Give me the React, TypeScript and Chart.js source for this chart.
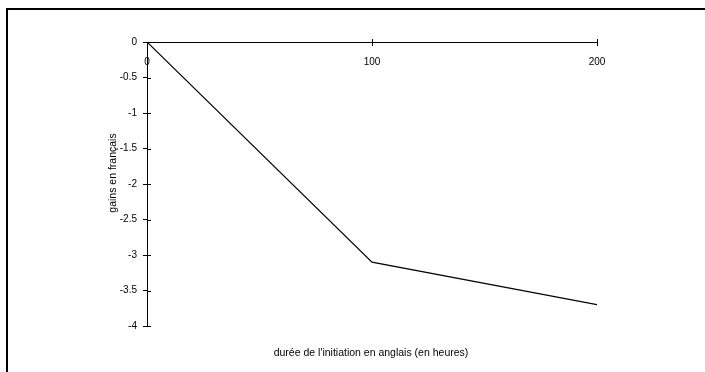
import React, { useEffect, useRef } from "react";
import { Chart, registerables } from "chart.js";

Chart.register(...registerables);

const hours = [0, 100, 200];
const gains = [0, -3.1, -3.7];
const xTicks = [0, 100, 200];
const yTicks = [0, -0.5, -1, -1.5, -2, -2.5, -3, -3.5, -4];
const xTitle = "durée de l'initiation en anglais (en heures)";
const yTitle = "gains en français";

const FONT = "'Liberation Sans', Arial, sans-serif";

const extras = {
  id: "extras",
  beforeDraw(chart: any) {
    const { ctx, width, height } = chart;
    ctx.save();
    ctx.fillStyle = "#fff";
    ctx.fillRect(0, 0, width, height);
    ctx.fillStyle = "#000";
    ctx.fillRect(6, 8, width - 6, 2);
    ctx.fillRect(6, 8, 2, height - 8);
    ctx.restore();
  },
  afterDraw(chart: any) {
    const { ctx, chartArea, scales } = chart;
    const ys = scales.y;
    const xs = scales.x;
    ctx.save();
    ctx.strokeStyle = "#000";
    ctx.lineWidth = 1;
    ctx.beginPath();
    ys.ticks.forEach((t: any) => {
      const py = Math.round(ys.getPixelForValue(t.value)) + 0.5;
      ctx.moveTo(chartArea.left, py);
      ctx.lineTo(chartArea.left + 4, py);
    });
    xs.ticks.forEach((t: any) => {
      if (t.value === 0) return;
      const px = Math.round(xs.getPixelForValue(t.value)) + 0.5;
      ctx.moveTo(px, chartArea.top - 3);
      ctx.lineTo(px, chartArea.top);
    });
    ctx.stroke();
    ctx.fillStyle = "#000";
    ctx.font = "10.5px " + FONT;
    ctx.textAlign = "center";
    ctx.textBaseline = "middle";
    ctx.fillText(xTitle, (chartArea.left + chartArea.right) / 2 - 1, chartArea.bottom + 27);
    ctx.translate(chartArea.left - 34, (chartArea.top + chartArea.bottom) / 2 - 11);
    ctx.rotate(-Math.PI / 2);
    ctx.fillText(yTitle, 0, 0);
    ctx.restore();
  },
};

export default function App() {
  const ref = useRef<HTMLCanvasElement | null>(null);
  useEffect(() => {
    if (!ref.current) return;
    const chart = new Chart(ref.current, {
      type: "line",
      data: {
        datasets: [
          {
            data: hours.map((h, i) => ({ x: h, y: gains[i] })),
            borderColor: "#000",
            borderWidth: 1.2,
            pointRadius: 0,
            tension: 0,
            fill: false,
          },
        ],
      },
      options: {
        animation: false,
        responsive: false,
        maintainAspectRatio: false,
        layout: { padding: { top: 42, right: 108, bottom: 46, left: 0 } },
        plugins: { legend: { display: false }, tooltip: { enabled: false } },
        scales: {
          x: {
            type: "linear",
            position: { y: 0 } as any,
            min: 0,
            max: 200,
            afterBuildTicks: (s: any) => {
              s.ticks = xTicks.map((v) => ({ value: v }));
            },
            grid: { drawOnChartArea: false, drawTicks: true, tickLength: 3, color: "#000" },
            border: { display: true, color: "#000", width: 1 },
            ticks: {
              color: "#000",
              padding: 11,
              font: { size: 10, family: FONT },
              maxRotation: 0,
              callback: (v: any) => String(v),
            },
          },
          y: {
            type: "linear",
            position: "left",
            min: -4,
            max: 0,
            afterBuildTicks: (s: any) => {
              s.ticks = yTicks.map((v) => ({ value: v }));
            },
            afterFit: (s: any) => {
              s.width = 147;
            },
            grid: { drawOnChartArea: false, drawTicks: true, tickLength: 4, color: "#000" },
            border: { display: true, color: "#000", width: 1 },
            ticks: {
              color: "#000",
              padding: 6,
              font: { size: 10, family: FONT },
              callback: (v: any) => String(v),
            },
          },
        },
      },
      plugins: [extras],
    });
    return () => chart.destroy();
  }, []);
  return (
    <canvas
      ref={ref}
      width={705}
      height={372}
      style={{ position: "absolute", left: 0, top: 0, display: "block", width: 705, height: 372 }}
    />
  );
}
